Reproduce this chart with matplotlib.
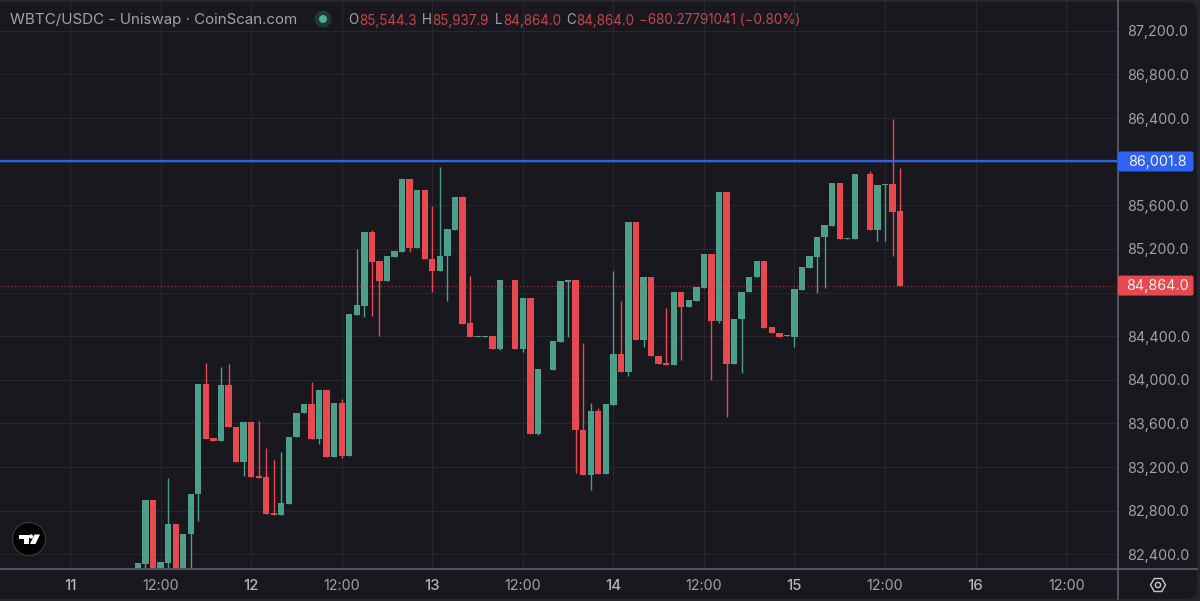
import numpy as np
import matplotlib
matplotlib.use("Agg")
import matplotlib.pyplot as plt
from matplotlib.patches import Circle, FancyBboxPatch, Polygon, RegularPolygon
from matplotlib.ticker import FixedLocator, FixedFormatter

plt.rcParams['font.family'] = ['Inter', 'DejaVu Sans']

# hourly candles, hour 0 is the 11th at 00:00
first_hour = 9
opens = [82200,82314,82898,82230,82323,82681,82230,82583,82950,83961,
         83463,83439,83949,83570,83249,83616,83118,83109,82779,82760,
         82861,83472,83699,83775,83457,83909,83295,83787,83304,84597,
         84677,85358,85086,84909,85129,85175,85844,85209,85740,85108,
         85001,85135,85374,85679,84518,84396,84396,84399,84285,84912,
         84912,84285,84750,83506,84096,84093,84350,84900,84912,83540,
         83130,83714,83136,83772,84240,84072,85447,84362,84943,84221,
         84154,84136,84808,84671,84726,84845,85150,84536,85719,84142,
         84557,84802,84940,85092,84484,84432,84402,84396,84826,85028,
         85129,85306,85413,85801,85294,85288,85884,85890,85376,85786,
         85792,85544.3]
closes = [82317,82898,82230,82326,82681,82230,82583,82953,83961,83460,
          83436,83949,83564,83246,83616,83112,83103,82773,82760,82867,
          83472,83699,83775,83454,83909,83295,83787,83301,84603,84683,
          85358,85083,84909,85132,85181,85844,85209,85740,85105,85001,
          85135,85380,85679,84512,84396,84402,84402,84283,84912,84918,
          84285,84750,83506,84096,84102,84353,84906,84912,83540,83130,
          83714,83136,83778,84240,84071,85447,84362,84943,84215,84145,
          84136,84808,84671,84729,84848,85150,84536,85719,84142,84561,
          84805,84943,85092,84478,84426,84396,84408,84830,85031,85135,
          85309,85419,85801,85288,85300,85887,85890,85376,85786,85792,
          85539,84864]
highs = [82317,82898,82898,82326,83100,82681,82583,82953,83961,84154,
         83463,84120,84145,83570,83616,83616,83619,83378,83265,83338,
         83472,83699,83775,83977,83909,83909,83787,83821,84603,85196,
         85358,85371,85086,85132,85181,85844,85844,85740,85740,85594,
         85954,85380,85679,85688,84952,84402,84402,84399,84912,84918,
         84912,84750,84750,84096,84102,84353,84906,84915,84912,84340,
         83790,83738,83778,84998,84726,85447,85447,84943,84943,84221,
         84658,84808,84808,84729,84848,85150,85150,85719,85719,84561,
         84805,84943,85092,85092,84484,84432,84408,84830,85031,85135,
         85309,85419,85801,85801,85300,85887,85890,85915,85786,85792,
         86391,85937.9]
lows = [82200,82240,82230,82230,82250,82230,82230,82200,82708,83460,
        83436,83439,83564,83246,83118,83112,83103,82773,82760,82760,
        82861,83472,83699,83454,83411,83295,83295,83283,83304,84597,
        84573,84585,84405,84909,85129,85175,85175,85209,85105,84808,
        85001,84726,85374,84512,84396,84396,84396,84283,84273,84912,
        84285,84258,83506,83491,84096,84093,84350,84395,83142,83130,
        82990,83136,83136,83772,84071,84035,84362,84304,84215,84145,
        84136,84136,84182,84671,84726,84845,83998,84518,83662,84142,
        84059,84802,84940,84478,84426,84396,84402,84304,84826,85028,
        84799,84839,85413,85288,85294,85288,85884,85376,85276,85276,
        85138,84864]

price_ticks = [82400,82800,83200,83600,84000,84400,84800,85200,85600,86000,86400,86800,87200]
price_labels = ['82,400.0','82,800.0','83,200.0','83,600.0','84,000.0','84,400.0','',
                '85,200.0','85,600.0','','86,400.0','86,800.0','87,200.0']
time_ticks = [0,12,24,36,48,60,72,84,96,108,120,132]
time_labels = ['11','12:00','12','12:00','13','12:00','14','12:00','15','12:00','16','12:00']
level_price = 86001.8
last_price = 84864.0

BG = '#18181e'
GREEN = '#4c9f88'
RED = '#e8484f'
BLUE = '#2f62f2'
GRID = '#27272d'
LINE = '#66656f'
TEXT = '#a2a1a8'

fig = plt.figure(figsize=(12, 6.01), dpi=100, facecolor='#26262b')
W, H = 1200, 601

# main panel, pixel box 0..1117 x 2..568
ax = fig.add_axes([0, (H - 568) / H, 1117 / W, 566 / H], facecolor=BG)
ax.set_xlim(-9.28, 138.74)
ax.set_ylim(85600 - (568 - 205.3) * 9.169, 85600 + (205.3 - 2) * 9.169)

hours = np.arange(len(opens)) + first_hour
o = np.array(opens, dtype=float)
c = np.array(closes, dtype=float)
colors = [GREEN if b >= a else RED for a, b in zip(o, c)]
ax.vlines(hours, lows, highs, colors=colors, linewidth=1.0, zorder=3)
ax.bar(hours, np.abs(c - o), bottom=np.minimum(o, c), width=0.84, color=colors, linewidth=0, zorder=4)

ax.axhline(level_price, color=BLUE, linewidth=1.6, zorder=5)
ax.axhline(last_price, color=RED, linewidth=0.8, linestyle=(0, (1, 2.2)), alpha=0.75, zorder=5)

ax.xaxis.set_major_locator(FixedLocator(time_ticks))
ax.xaxis.set_major_formatter(FixedFormatter(time_labels))
ax.yaxis.set_major_locator(FixedLocator(price_ticks))
ax.yaxis.set_major_formatter(FixedFormatter(price_labels))
ax.yaxis.tick_right()
ax.grid(True, color=GRID, linewidth=0.8, zorder=0)
ax.set_axisbelow(True)
ax.tick_params(axis='both', length=0, labelcolor=TEXT, labelsize=10.3)
ax.tick_params(axis='x', pad=8)
ax.tick_params(axis='y', pad=7)
for tick, lab in zip(ax.get_xticklabels(), time_labels):
    if ':' not in lab:
        tick.set_fontweight('medium')
        tick.set_color('#b4b3ba')
        tick.set_fontsize(10.8)
for side in ax.spines.values():
    side.set_visible(False)

# overlay in image pixels for the chrome
over = fig.add_axes([0, 0, 1, 1], facecolor='none')
over.set_xlim(0, W)
over.set_ylim(H, 0)
over.axis('off')

fig.patches.append(FancyBboxPatch((-20, 2), W - 3 + 20, H - 4, boxstyle='round,pad=0,rounding_size=10',
                                  facecolor=BG, edgecolor='none', transform=over.transData, figure=fig, zorder=-1))

over.plot([1117.5, 1117.5], [0, 599], color=LINE, linewidth=1.1)
over.plot([0, 1197], [568.5, 568.5], color=LINE, linewidth=1.1)


def price_y(price):
    return H - ax.transData.transform((0, price))[1]


def price_flag(price, label, color):
    y = price_y(price)
    over.add_patch(FancyBboxPatch((1118, y - 10), 75.5, 20, boxstyle='round,pad=0,rounding_size=2',
                                  facecolor=color, edgecolor='none', zorder=6))
    over.text(1157, y + 0.3, label, color='#f4f4f6', fontsize=10.3, ha='center', va='center', zorder=7)


price_flag(level_price, '86,001.8', BLUE)
price_flag(last_price, '84,864.0', RED)

# header line
over.text(10, 20, 'WBTC/USDC - Uniswap · CoinScan.com', color=TEXT, fontsize=10.9, va='center')
over.add_patch(Circle((323, 19), 8.5, facecolor='#1d3a35', edgecolor='none'))
over.add_patch(Circle((323, 19), 4, facecolor='#4fae94', edgecolor='none'))
over.text(348, 20.5, 'O', color=TEXT, fontsize=9.7, va='center')
over.text(359, 20.5, '85,544.3', color='#c4464c', fontsize=9.7, va='center')
over.text(422, 20.5, 'H', color=TEXT, fontsize=9.7, va='center')
over.text(432.5, 20.5, '85,937.9', color='#c4464c', fontsize=9.7, va='center')
over.text(495, 20.5, 'L', color=TEXT, fontsize=9.7, va='center')
over.text(503, 20.5, '84,864.0', color='#c4464c', fontsize=9.7, va='center')
over.text(566, 20.5, 'C', color=TEXT, fontsize=9.7, va='center')
over.text(576, 20.5, '84,864.0', color='#c4464c', fontsize=9.7, va='center')
over.text(639, 20.5, '\u2212680.27791041 (\u22120.80%)', color='#c4464c', fontsize=9.7, va='center')

# tradingview badge
over.add_patch(Circle((29, 539), 16.5, facecolor='black', edgecolor='#3a3a40', linewidth=0.8, zorder=6))
over.add_patch(Polygon([(19, 534.5), (28.5, 534.5), (28.5, 544), (24, 544), (24, 538.5), (19, 538.5)],
                       facecolor='white', edgecolor='none', zorder=7))
over.add_patch(Circle((31, 536.5), 2.1, facecolor='white', edgecolor='none', zorder=7))
over.add_patch(Polygon([(34.5, 534.5), (40, 534.5), (35.5, 544), (30, 544)],
                       facecolor='white', edgecolor='none', zorder=7))

# settings icon
over.add_patch(RegularPolygon((1158, 585), 6, radius=7.5, orientation=np.pi / 6,
                              facecolor='none', edgecolor='#c8c7cc', linewidth=1.0))
over.add_patch(Circle((1158, 585), 2.6, facecolor='none', edgecolor='#c8c7cc', linewidth=1.0))

fig.savefig('out.png', dpi=100, facecolor=fig.get_facecolor())
